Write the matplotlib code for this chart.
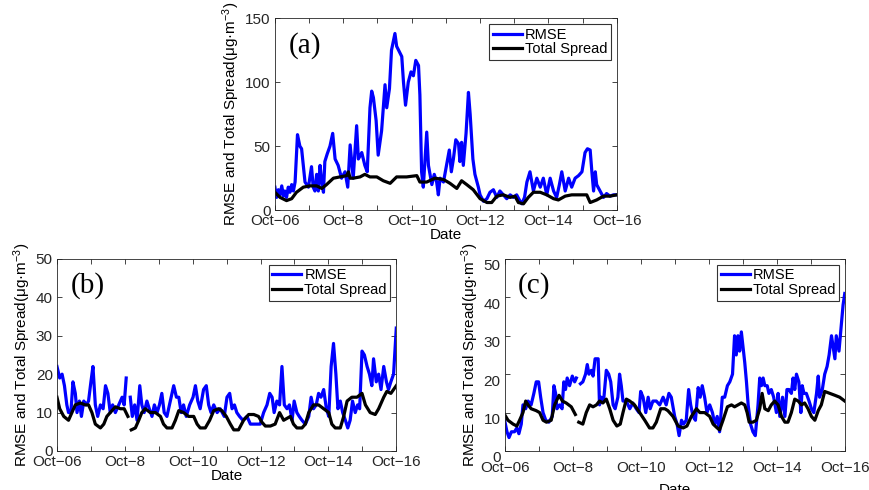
import numpy as np
import matplotlib
matplotlib.use("Agg")
import matplotlib.pyplot as plt
import matplotlib.transforms as mtransforms

plt.rcParams['font.family'] = ['Liberation Sans', 'DejaVu Sans']
plt.rcParams['mathtext.fontset'] = 'custom'
plt.rcParams['mathtext.rm'] = 'Liberation Sans'
plt.rcParams['mathtext.it'] = 'Liberation Sans:italic'

nan = np.nan

# days since Oct-06 00:00
day_ticks = [0, 1, 2, 3, 4, 5, 6, 7, 8, 9, 10]
day_labels = ['Oct\u221206', '', 'Oct\u22128', '', 'Oct\u221210', '', 'Oct\u221212', '',
              'Oct\u221214', '', 'Oct\u221216']

# ---- panel (a)
a_rmse_x = [0, 0.05, 0.1, 0.15, 0.2, 0.25, 0.29, 0.34, 0.39, 0.44, 0.49, 0.54, 0.59, 0.66, 0.73, 0.78,
            0.88, 0.98, 1.07, 1.12, 1.17, 1.22, 1.27, 1.32, 1.37, 1.42, 1.46, 1.53, 1.61, 1.69, 1.76, 1.85,
            1.95, 2.05, 2.13, 2.2, 2.29, 2.39, 2.44, 2.54, 2.63, 2.7, 2.78, 2.83, 2.88, 2.96, 3.02, 3.12,
            3.22, 3.27, 3.35, 3.41, 3.51, 3.56, 3.71, 3.76, 3.82, 3.9, 3.98, 4.05, 4.12, 4.2, 4.24, 4.29,
            4.34, 4.44, 4.49, 4.59, 4.66, 4.73, 4.78, 4.83, 4.93, 5.02, 5.1, 5.16, 5.22, 5.29, 5.37, 5.41,
            5.46, 5.51, 5.59, 5.66, 5.71, 5.79, 5.85, 5.95, 6.0, 6.1, 6.2, 6.29, 6.39, 6.49, 6.58, 6.68,
            6.78, 6.88, 6.98, 7.07, 7.15, 7.22, 7.3, 7.37, 7.46, 7.56, 7.66, 7.76, 7.85, 7.95, 8.05, 8.15,
            8.24, 8.32, 8.39, 8.49, 8.59, 8.68, 8.78, 8.88, 8.98, 9.07, 9.14, 9.22, 9.27, 9.32, 9.37, 9.41,
            9.51, 9.61, 9.7, 9.8, 9.9, 10]
a_rmse = [18, 10, 16, 12, 19, 11, 15, 10, 18, 14, 20, 15, 22, 59, 50, 48,
          22, 18, 34, 18, 15, 28, 15, 35, 22, 14, 38, 44, 50, 60, 40, 35,
          25, 30, 18, 51, 25, 66, 40, 45, 35, 30, 80, 93, 88, 70, 43, 62,
          98, 80, 95, 125, 138, 128, 120, 100, 82, 100, 108, 105, 117, 113, 90, 30,
          18, 61, 35, 20, 28, 22, 12, 25, 22, 35, 47, 30, 40, 55, 52, 38,
          53, 35, 60, 92, 75, 40, 28, 18, 12, 7, 9, 14, 16, 10, 15, 12,
          9, 12, 10, 12, 8, 5, 10, 22, 30, 15, 25, 18, 25, 12, 25, 15,
          10, 20, 30, 15, 25, 18, 25, 27, 30, 45, 48, 47, 30, 15, 30, 20,
          15, 10, 13, 11, 12, 12]
a_spread_x = [0, 0.15, 0.34, 0.49, 0.63, 0.83, 1.02, 1.22, 1.37, 1.51, 1.71, 1.9, 2.1, 2.15, 2.2, 2.29,
              2.49, 2.63, 2.78, 2.98, 3.17, 3.37, 3.56, 3.85, 4.15, 4.24, 4.44, 4.68, 4.93, 5.12, 5.32,
              5.46, 5.61, 5.8, 6.0, 6.2, 6.34, 6.49, 6.68, 6.88, 7.02, 7.12, 7.27, 7.41, 7.56, 7.76,
              7.95, 8.15, 8.29, 8.49, 8.68, 8.93, 9.12, 9.22, 9.41, 9.61, 9.8, 10]
a_spread = [14, 10, 7.5, 9, 14, 18, 19, 19, 17, 20, 25, 26, 27, 30, 25, 25,
            26, 28, 26, 26, 23, 21, 26, 26, 27, 22, 22, 25, 24, 21, 17,
            23, 20, 16, 9, 6, 6, 11, 12, 10, 11, 6, 5, 10, 14, 14,
            12, 9, 8, 11, 12, 12, 12, 6, 8, 11, 11, 12]

# ---- panel (b)
b_rmse_x = [0, 0.08, 0.15, 0.22, 0.29, 0.34, 0.41, 0.47, 0.54, 0.59, 0.66, 0.72, 0.79, 0.86, 0.93, 1.0,
            1.06, 1.13, 1.2, 1.28, 1.36, 1.43, 1.5, 1.57, 1.64, 1.72, 1.82, 1.92, 1.98, 2.04, 2.1, 2.16,
            2.22, 2.29, 2.36, 2.44, 2.5, 2.57, 2.65, 2.72, 2.8, 2.87, 2.95, 3.02, 3.09, 3.16, 3.24, 3.34,
            3.44, 3.52, 3.59, 3.66, 3.73, 3.81, 3.91, 4.01, 4.08, 4.15, 4.22, 4.32, 4.4, 4.47, 4.54, 4.62,
            4.72, 4.81, 4.93, 5.01, 5.09, 5.16, 5.23, 5.3, 5.38, 5.48, 5.6, 5.7, 5.84, 5.99, 6.09, 6.19,
            6.27, 6.34, 6.4, 6.48, 6.56, 6.63, 6.7, 6.78, 6.85, 6.93, 6.99, 7.07, 7.14, 7.22, 7.32, 7.42,
            7.49, 7.56, 7.64, 7.71, 7.78, 7.86, 7.94, 8.01, 8.08, 8.15, 8.22, 8.28, 8.35, 8.42, 8.5, 8.57,
            8.64, 8.71, 8.79, 8.86, 8.92, 8.99, 9.06, 9.14, 9.21, 9.28, 9.33, 9.41, 9.48, 9.55, 9.63, 9.71,
            9.77, 9.84, 9.92, 10]
b_rmse = [22, 19, 20, 17, 12, 10, 10, 18, 15, 10, 13, 9, 13, 12, 13, 18,
          22, 12, 9, 12, 11, 17, 15, 10, 12, 10, 12, 14, 12, 19, nan, 14,
          9, 12, 8, 17, 12, 10, 13, 11, 9, 12, 10, 12, 15, 10, 9, 13,
          17, 14, 14, 10, 12, 9, 12, 14, 17, 13, 11, 16, 17, 12, 10, 12,
          10, 11, 9, 14, 15, 11, 12, 10, 9, 8, 9, 7, 7, 7, 10, 12,
          15, 14, 10, 13, 12, 22, 12, 11, 12, 8, 13, 10, 9, 8, 7, 9,
          14, 11, 12, 15, 14, 16, 11, 9, 22, 28, 20, 11, 13, 10, 8, 6,
          8, 13, 10, 12, 11, 26, 25, 22, 20, 17, 24, 18, 20, 16, 22, 18,
          16, 18, 20, 32]
b_spread_x = [0, 0.08, 0.2, 0.34, 0.44, 0.54, 0.69, 0.83, 0.93, 1.03, 1.13, 1.28, 1.38, 1.47, 1.57, 1.72,
              1.87, 1.98, 2.09, 2.14, 2.19, 2.31, 2.41, 2.5, 2.6, 2.75, 2.9, 3.05, 3.14, 3.24, 3.39, 3.49,
              3.59, 3.73, 3.88, 4.03, 4.13, 4.22, 4.37, 4.5, 4.62, 4.76, 4.86, 4.99, 5.11, 5.21, 5.35, 5.5,
              5.65, 5.8, 5.94, 6.04, 6.14, 6.29, 6.43, 6.56, 6.68, 6.78, 6.88, 6.97, 7.07, 7.22, 7.32, 7.42,
              7.56, 7.71, 7.86, 8.01, 8.1, 8.2, 8.35, 8.45, 8.55, 8.69, 8.84, 8.99, 9.09, 9.23, 9.38, 9.48,
              9.63, 9.72, 9.84, 9.92, 10]
b_spread = [14, 11, 9, 8, 10, 12, 12.5, 12, 12, 10, 7, 6, 7, 9, 10, 11.5,
            11, 11, 9, nan, 5.5, 6, 8, 10, 11, 10, 10, 9, 7, 6, 6, 8,
            10.5, 10, 9, 9, 7, 6, 6, 8, 10.5, 11, 10.5, 9, 7, 5.5, 5.5, 8,
            9.5, 9.5, 9, 7.5, 6.5, 6.5, 7, 10, 8, 8.5, 9, 7, 6, 6, 7, 10,
            12, 12, 11, 10, 7, 6, 6, 9, 13, 14, 14, 15, 12, 10, 9.5, 11,
            14, 15.5, 15, 16, 17]

# ---- panel (c)
c_rmse_x = [0, 0.07, 0.13, 0.2, 0.29, 0.36, 0.42, 0.49, 0.54, 0.62, 0.69, 0.78, 0.86, 0.93, 1.0, 1.06,
            1.13, 1.21, 1.3, 1.4, 1.45, 1.5, 1.54, 1.62, 1.69, 1.74, 1.79, 1.84, 1.91, 1.99, 2.06, 2.11,
            2.17, 2.23, 2.3, 2.38, 2.43, 2.48, 2.55, 2.6, 2.66, 2.75, 2.79, 2.84, 2.91, 2.99, 3.06, 3.12,
            3.19, 3.25, 3.33, 3.38, 3.43, 3.48, 3.58, 3.68, 3.77, 3.87, 3.95, 4.0, 4.07, 4.15, 4.22, 4.28,
            4.36, 4.46, 4.56, 4.66, 4.75, 4.83, 4.9, 5.0, 5.07, 5.13, 5.2, 5.26, 5.34, 5.41, 5.47, 5.54,
            5.61, 5.69, 5.75, 5.81, 5.88, 5.95, 6.03, 6.11, 6.18, 6.25, 6.32, 6.4, 6.47, 6.55, 6.62, 6.7,
            6.76, 6.81, 6.86, 6.91, 6.96, 7.01, 7.06, 7.11, 7.16, 7.23, 7.3, 7.37, 7.45, 7.5, 7.55, 7.6,
            7.65, 7.72, 7.77, 7.84, 7.91, 7.99, 8.04, 8.09, 8.17, 8.24, 8.3, 8.36, 8.43, 8.48, 8.53, 8.58,
            8.65, 8.71, 8.75, 8.8, 8.87, 8.95, 9.02, 9.09, 9.17, 9.22, 9.26, 9.34, 9.41, 9.48, 9.54, 9.61,
            9.66, 9.71, 9.75, 9.83, 9.9, 9.95, 10]
c_rmse = [8, 5, 3.5, 5, 5, 6, 4.5, 7, 12, 11, 13, 12, 15, 18, 18, 14,
          10, 8, 7.5, 9, 17, 15, 11, 12, 11, 18, 16, 19, 17, 19.5, 18, 19,
          nan, 17.5, 18, 20, 22.5, 20, 21, 19.5, 24, 24, 12, 14, 13, 21, 20, 18,
          12, 11, 14, 20, 17, 13, 13, 11, 12.5, 11, 10, 15.5, 14, 10, 14, 11,
          13, 13, 12, 14, 12, 15, 14, 9, 7, 4, 8, 7, 8, 16, 12, 9,
          8, 16.5, 14, 17, 14, 10, 12, 10, 7, 9, 5, 14, 14, 17, 18, 20,
          30, 25, 30, 26, 31, 27, 23, 18, 12, 7, 5, 4, 12, 19, 17, 19,
          17, 17, 15, 16, 14, 10, 15, 9, 14, 9, 16, 16, 15, 19, 16, 20,
          18, 10, 17, 15, 15, 13, 11, 10, 15, 19.5, 14, 16, 20, 22, 25, 30,
          27, 24, 30, 26, 33, 38, 41]
c_spread_x = [0, 0.1, 0.25, 0.36, 0.44, 0.54, 0.62, 0.69, 0.78, 0.93, 1.03, 1.13, 1.23, 1.37, 1.47, 1.6,
              1.7, 1.81, 1.96, 2.08, 2.13, 2.18, 2.3, 2.4, 2.5, 2.6, 2.7, 2.79, 2.89, 2.99, 3.09, 3.19,
              3.3, 3.4, 3.48, 3.58, 3.68, 3.82, 3.97, 4.12, 4.26, 4.36, 4.46, 4.59, 4.71, 4.8, 4.95, 5.1,
              5.25, 5.36, 5.49, 5.64, 5.74, 5.88, 6.03, 6.13, 6.25, 6.32, 6.42, 6.55, 6.67, 6.76, 6.86, 6.96,
              7.06, 7.13, 7.19, 7.3, 7.4, 7.5, 7.57, 7.65, 7.75, 7.84, 7.94, 8.04, 8.14, 8.24, 8.33, 8.43,
              8.53, 8.63, 8.73, 8.82, 8.92, 9.02, 9.12, 9.22, 9.31, 9.41, 9.56, 9.71, 9.85, 10]
c_spread = [9.5, 8, 7, 6.5, 8, 10, 13, 12, 11, 10.5, 10, 8, 7.5, 8, 12, 14.5,
            13, 12.5, 11.5, 9.5, nan, 7.5, 7, 10, 12, 11.5, 12, 13, 12.5, 13.5, 11, 8,
            6.5, 7, 10, 13.5, 13, 12, 10, 8, 6, 6, 7.5, 11, 11, 10.5, 9, 6.5,
            6, 6.5, 9, 11, 10, 10, 9, 7, 6, 5.5, 8, 11.5, 12, 11.5, 12, 12.5,
            12, 10, 7.5, 7.5, 8, 11, 15, 11, 10.5, 12, 13, 12, 9, 7.5, 7.5, 10,
            13.5, 13, 12, 12.5, 11, 9, 8, 10.5, 12, 15.5, 15, 14.5, 14, 13]

ylabel = r'RMSE and Total Spread(μg·m$^{-3}$)'
axis_color = '#262626'


def draw_panel(ax, rmse_x, rmse, spread_x, spread, ymax, ystep, tag):
    ax.plot(rmse_x, rmse, color='#0000ff', lw=2.3, label='RMSE')
    ax.plot(spread_x, spread, color='black', lw=2.3, label='Total Spread')
    ax.set_xlim(0, 10)
    ax.set_ylim(0, ymax)
    ax.set_xticks(day_ticks)
    ax.set_xticklabels(day_labels)
    ax.set_yticks(np.arange(0, ymax + 1, ystep))
    ax.tick_params(direction='in', top=True, right=True, length=3.5, width=0.6,
                   labelsize=11, colors=axis_color, pad=3)
    for sp in ax.spines.values():
        sp.set_color(axis_color)
        sp.set_linewidth(0.6)
    ax.set_xlabel('Date', fontsize=11, labelpad=0)
    ax.set_ylabel(ylabel, fontsize=11, labelpad=2)
    ax.text(0.04, 0.93, tag, transform=ax.transAxes, ha='left', va='top',
            fontsize=21, family='Liberation Serif')
    leg = ax.legend(loc='upper right', fontsize=10.5, frameon=True, fancybox=False,
                    borderaxespad=0.4, borderpad=0.25, labelspacing=0.05,
                    handlelength=2.0, handletextpad=0.2)
    leg.get_frame().set_edgecolor('black')
    leg.get_frame().set_linewidth(0.8)


fig = plt.figure(figsize=(8.7, 4.9), dpi=100)
ax_a = fig.add_axes([0.316, 0.571, 0.393, 0.392])
ax_b = fig.add_axes([0.0655, 0.0796, 0.390, 0.392])
ax_c = fig.add_axes([0.580, 0.0796, 0.391, 0.392])

draw_panel(ax_a, a_rmse_x, a_rmse, a_spread_x, a_spread, 150, 50, '(a)')
draw_panel(ax_b, b_rmse_x, b_rmse, b_spread_x, b_spread, 50, 10, '(b)')
draw_panel(ax_c, c_rmse_x, c_rmse, c_spread_x, c_spread, 50, 10, '(c)')

# panel (c) labels sit a little lower in the original
shift = mtransforms.ScaledTranslation(0, -6 / 100, fig.dpi_scale_trans)
for lab in ax_c.get_yticklabels() + ax_c.get_xticklabels():
    lab.set_transform(lab.get_transform() + shift)
ax_c.xaxis.labelpad = 6

fig.savefig('out.png', dpi=100)
